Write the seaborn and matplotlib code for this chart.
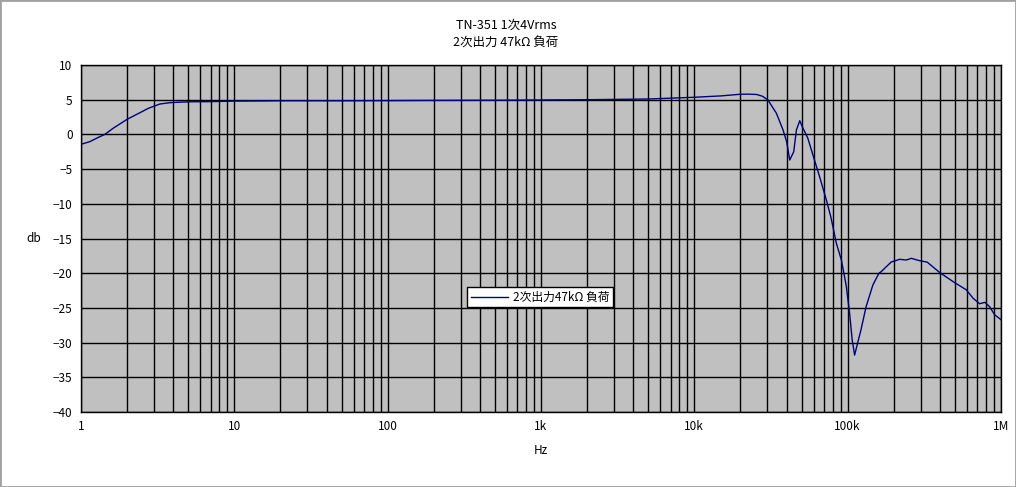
import matplotlib
matplotlib.use("Agg")
import matplotlib.pyplot as plt
import matplotlib.ticker as mticker
from matplotlib.patches import Rectangle
import numpy as np
import pandas as pd
import seaborn as sns

# 周波数特性データ
freq = [1, 1.14, 1.3, 1.43, 1.62, 2, 2.45, 2.75, 3.27, 3.8, 4.5, 5.2, 7, 10,
        15, 20, 50, 100, 200, 500, 1000, 2000, 5000, 10000, 15000, 19800,
        22500, 25500, 27800, 30200, 34300, 37900, 40000, 41900, 44500, 46300,
        48700, 50600, 55000, 59800, 65600, 72600, 77600, 84400, 91000, 98000,
        103000, 107000, 111000, 116000, 122000, 132000, 146000, 160000,
        165000, 192000, 218000, 241000, 260000, 295000, 330000, 398000,
        486000, 594000, 657000, 725000, 785000, 841000, 910000, 1000000]
db = [-1.43, -1.05, -0.42, 0.0, 0.88, 2.18, 3.18, 3.76, 4.38, 4.57, 4.65,
      4.7, 4.72, 4.8, 4.82, 4.85, 4.85, 4.87, 4.9, 4.92, 4.96, 5.0, 5.1,
      5.35, 5.55, 5.78, 5.8, 5.75, 5.5, 4.96, 3.04, 0.63, -1.05, -3.69, -2.49,
      0.63, 1.97, 1.11, -0.56, -3.2, -6.09, -9.45, -11.85, -15.7, -18.1,
      -21.9, -25.8, -29.6, -31.8, -30.1, -28.2, -24.8, -21.7, -20.0, -19.8,
      -18.4, -18.0, -18.1, -17.86, -18.2, -18.4, -19.9, -21.2, -22.4, -23.6,
      -24.4, -24.2, -24.8, -26.0, -26.7]
series_name = "2次出力47kΩ 負荷"
x_ticks = [1, 10, 100, 1000, 10000, 100000, 1000000]
x_labels = ["1", "10", "100", "1k", "10k", "100k", "1M"]
y_ticks = list(range(-40, 11, 5))

df = pd.DataFrame({"Hz": freq, "db": db})

plt.rcParams["font.family"] = ["Noto Sans CJK JP", "DejaVu Sans"]

fig = plt.figure(figsize=(10.16, 4.87), dpi=100)
ax = fig.add_axes([81 / 1016, 1 - 412 / 487, 920 / 1016, 347 / 487])
ax.set_facecolor("#C0C0C0")

sns.lineplot(data=df, x="Hz", y="db", ax=ax, color="#000080", linewidth=1,
             label=series_name)

ax.set_xscale("log")
ax.set_xlim(1, 1e6)
ax.set_ylim(-40, 10)
ax.set_xticks(x_ticks)
ax.set_xticklabels(x_labels)
ax.xaxis.set_minor_locator(mticker.LogLocator(base=10, subs=np.arange(2, 10)))
ax.xaxis.set_minor_formatter(mticker.NullFormatter())
ax.set_yticks(y_ticks)
ax.grid(True, which="major", axis="both", color="black", linewidth=1)
ax.grid(True, which="minor", axis="x", color="black", linewidth=1)
ax.set_axisbelow(True)
ax.tick_params(which="both", length=0, labelsize=8.5, pad=6)
for s in ax.spines.values():
    s.set_color("black")
    s.set_linewidth(1)

ax.set_xlabel("Hz", fontsize=8.5, labelpad=8)
ax.set_ylabel("db", fontsize=8.5, rotation=0, labelpad=14, va="center")

fig.text(0.498, 1 - 25 / 487, "TN-351 1次4Vrms", ha="center", va="center", fontsize=9)
fig.text(0.498, 1 - 42 / 487, "2次出力 47kΩ 負荷", ha="center", va="center", fontsize=9)

leg = ax.legend(loc="center", bbox_to_anchor=(0.499, 0.331), fontsize=8.5,
                fancybox=False, framealpha=1, edgecolor="black",
                handlelength=3.2, borderpad=0.3, handletextpad=0.4)
leg.get_frame().set_linewidth(1)

fig.patches.append(Rectangle((0, 0), 1, 1, transform=fig.transFigure,
                             fill=False, edgecolor="#A0A0A0", linewidth=2))

fig.savefig("out.png", dpi=100)
